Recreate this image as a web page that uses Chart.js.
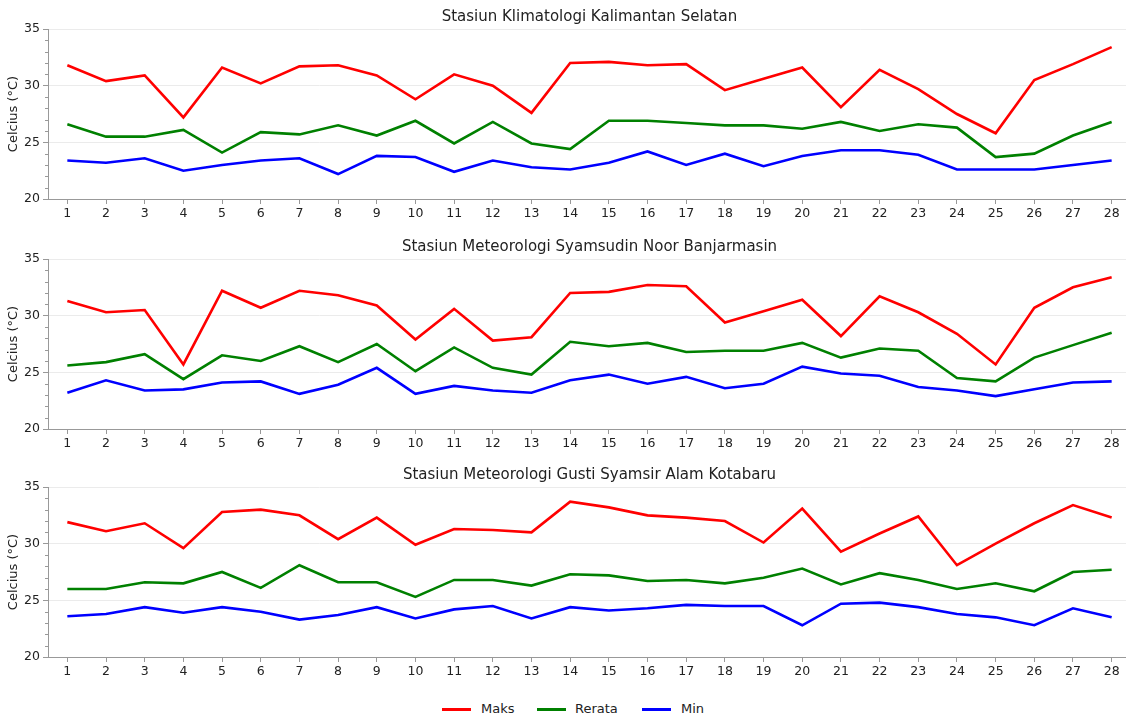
<!DOCTYPE html>
<html>
<head>
<meta charset="utf-8">
<script src="https://cdn.jsdelivr.net/npm/chart.js@4/dist/chart.umd.min.js"></script>
<style>
  html, body { margin: 0; padding: 0; width: 1126px; height: 715px; overflow: hidden; background: #fff; font-family: "DejaVu Sans", sans-serif; }
  .box { position: absolute; left: 0; width: 1132px; height: 220px; }
  #legend { position: absolute; top: 700px; left: 0; width: 1126px; height: 18px; font-size: 13px; color: #222; }
  .item { position: absolute; top: 0; height: 18px; line-height: 18px; }
  .sw { position: absolute; top: 8px; width: 29px; height: 2.5px; }
</style>
</head>
<body>
<div class="box" style="top:0px"><canvas id="c1"></canvas></div>
<div class="box" style="top:230px"><canvas id="c2"></canvas></div>
<div class="box" style="top:458px"><canvas id="c3"></canvas></div>
<div id="legend"></div>
<script>
const days = Array.from({length: 28}, (_, i) => String(i + 1));
const seriesNames = ['Maks', 'Rerata', 'Min'];
const seriesColors = ['#ff0000', '#008000', '#0000ff'];
const titles = [
  'Stasiun Klimatologi Kalimantan Selatan',
  'Stasiun Meteorologi Syamsudin Noor Banjarmasin',
  'Stasiun Meteorologi Gusti Syamsir Alam Kotabaru'
];
const yTicks = [20, 25, 30, 35];

const s1Maks   = [31.8,30.4,30.9,27.2,31.6,30.2,31.7,31.8,30.9,28.8,31.0,30.0,27.6,32.0,32.1,31.8,31.9,29.6,30.6,31.6,28.1,31.4,29.7,27.5,25.8,30.5,31.9,33.4];
const s1Rerata = [26.6,25.5,25.5,26.1,24.1,25.9,25.7,26.5,25.6,26.9,24.9,26.8,24.9,24.4,26.9,26.9,26.7,26.5,26.5,26.2,26.8,26.0,26.6,26.3,23.7,24.0,25.6,26.8];
const s1Min    = [23.4,23.2,23.6,22.5,23.0,23.4,23.6,22.2,23.8,23.7,22.4,23.4,22.8,22.6,23.2,24.2,23.0,24.0,22.9,23.8,24.3,24.3,23.9,22.6,22.6,22.6,23.0,23.4];

const s2Maks   = [31.3,30.3,30.5,25.7,32.2,30.7,32.2,31.8,30.9,27.9,30.6,27.8,28.1,32.0,32.1,32.7,32.6,29.4,30.4,31.4,28.2,31.7,30.3,28.4,25.7,30.7,32.5,33.4];
const s2Rerata = [25.6,25.9,26.6,24.4,26.5,26.0,27.3,25.9,27.5,25.1,27.2,25.4,24.8,27.7,27.3,27.6,26.8,26.9,26.9,27.6,26.3,27.1,26.9,24.5,24.2,26.3,27.4,28.5];
const s2Min    = [23.2,24.3,23.4,23.5,24.1,24.2,23.1,23.9,25.4,23.1,23.8,23.4,23.2,24.3,24.8,24.0,24.6,23.6,24.0,25.5,24.9,24.7,23.7,23.4,22.9,23.5,24.1,24.2];

const s3Maks   = [31.9,31.1,31.8,29.6,32.8,33.0,32.5,30.4,32.3,29.9,31.3,31.2,31.0,33.7,33.2,32.5,32.3,32.0,30.1,33.1,29.3,30.9,32.4,28.1,30.0,31.8,33.4,32.3];
const s3Rerata = [26.0,26.0,26.6,26.5,27.5,26.1,28.1,26.6,26.6,25.3,26.8,26.8,26.3,27.3,27.2,26.7,26.8,26.5,27.0,27.8,26.4,27.4,26.8,26.0,26.5,25.8,27.5,27.7];
const s3Min    = [23.6,23.8,24.4,23.9,24.4,24.0,23.3,23.7,24.4,23.4,24.2,24.5,23.4,24.4,24.1,24.3,24.6,24.5,24.5,22.8,24.7,24.8,24.4,23.8,23.5,22.8,24.3,23.5];

const stations = [[s1Maks, s1Rerata, s1Min], [s2Maks, s2Rerata, s2Min], [s3Maks, s3Rerata, s3Min]];

const FONT = '"DejaVu Sans", sans-serif';
const AXIS = '#999999';

const minorTicks = {
  id: 'minorTicks',
  afterDraw(chart) {
    const y = chart.scales.y, ctx = chart.ctx;
    ctx.save();
    ctx.strokeStyle = AXIS;
    ctx.lineWidth = 1;
    for (let v = y.min; v <= y.max; v++) {
      if (v % 5 === 0) continue;
      const py = Math.round(y.getPixelForValue(v)) + 0.5;
      ctx.beginPath();
      ctx.moveTo(y.right - 3, py);
      ctx.lineTo(y.right, py);
      ctx.stroke();
    }
    ctx.restore();
  }
};

function makeChart(id, title, data) {
  new Chart(document.getElementById(id), {
    type: 'line',
    data: {
      labels: days,
      datasets: seriesNames.map((n, i) => ({
        label: n, data: data[i], borderColor: seriesColors[i], backgroundColor: seriesColors[i],
        borderWidth: 2.6, pointRadius: 0, tension: 0, fill: false
      }))
    },
    options: {
      responsive: true, maintainAspectRatio: false, animation: false,
      layout: { padding: { left: 0, right: 1, top: 0, bottom: 0 } },
      plugins: {
        legend: { display: false },
        tooltip: { enabled: false },
        title: {
          display: true, text: title, fullSize: false, color: '#222',
          font: { family: FONT, size: 15, weight: 'normal' }, padding: { top: 8, bottom: 3 }
        }
      },
      scales: {
        x: {
          type: 'category', offset: true,
          afterFit(s) { s.height = 21; },
          grid: { drawOnChartArea: false, drawTicks: true, tickLength: 5, tickColor: AXIS, offset: false },
          border: { display: true, color: AXIS, width: 1 },
          ticks: { color: '#222', font: { family: FONT, size: 12.5 }, padding: 2, maxRotation: 0, autoSkip: false }
        },
        y: {
          min: 20, max: 35,
          afterFit(s) { s.width = 48; },
          afterBuildTicks(s) { s.ticks = yTicks.map(v => ({ value: v })); },
          grid: {
            color: ctx => (ctx.tick && ctx.tick.value === 20) ? 'rgba(0,0,0,0)' : '#ebebeb',
            tickColor: AXIS, tickLength: 5, lineWidth: 1
          },
          border: { display: true, color: AXIS, width: 1 },
          ticks: { color: '#222', font: { family: FONT, size: 12.5 }, padding: 3 },
          title: { display: true, text: 'Celcius (°C)', color: '#222', font: { family: FONT, size: 13 }, padding: { top: 6, bottom: 0 } }
        }
      }
    },
    plugins: [minorTicks]
  });
}

makeChart('c1', titles[0], stations[0]);
makeChart('c2', titles[1], stations[1]);
makeChart('c3', titles[2], stations[2]);

// legend
const legend = document.getElementById('legend');
const lx = [442, 537, 642];
const tx = [39, 38, 39];
seriesNames.forEach((n, i) => {
  const it = document.createElement('div');
  it.className = 'item';
  it.style.left = lx[i] + 'px';
  it.innerHTML = '<span class="sw" style="left:0;background:' + seriesColors[i] + '"></span><span style="position:absolute;left:' + tx[i] + 'px;white-space:nowrap">' + n + '</span>';
  legend.appendChild(it);
});
</script>
</body>
</html>
